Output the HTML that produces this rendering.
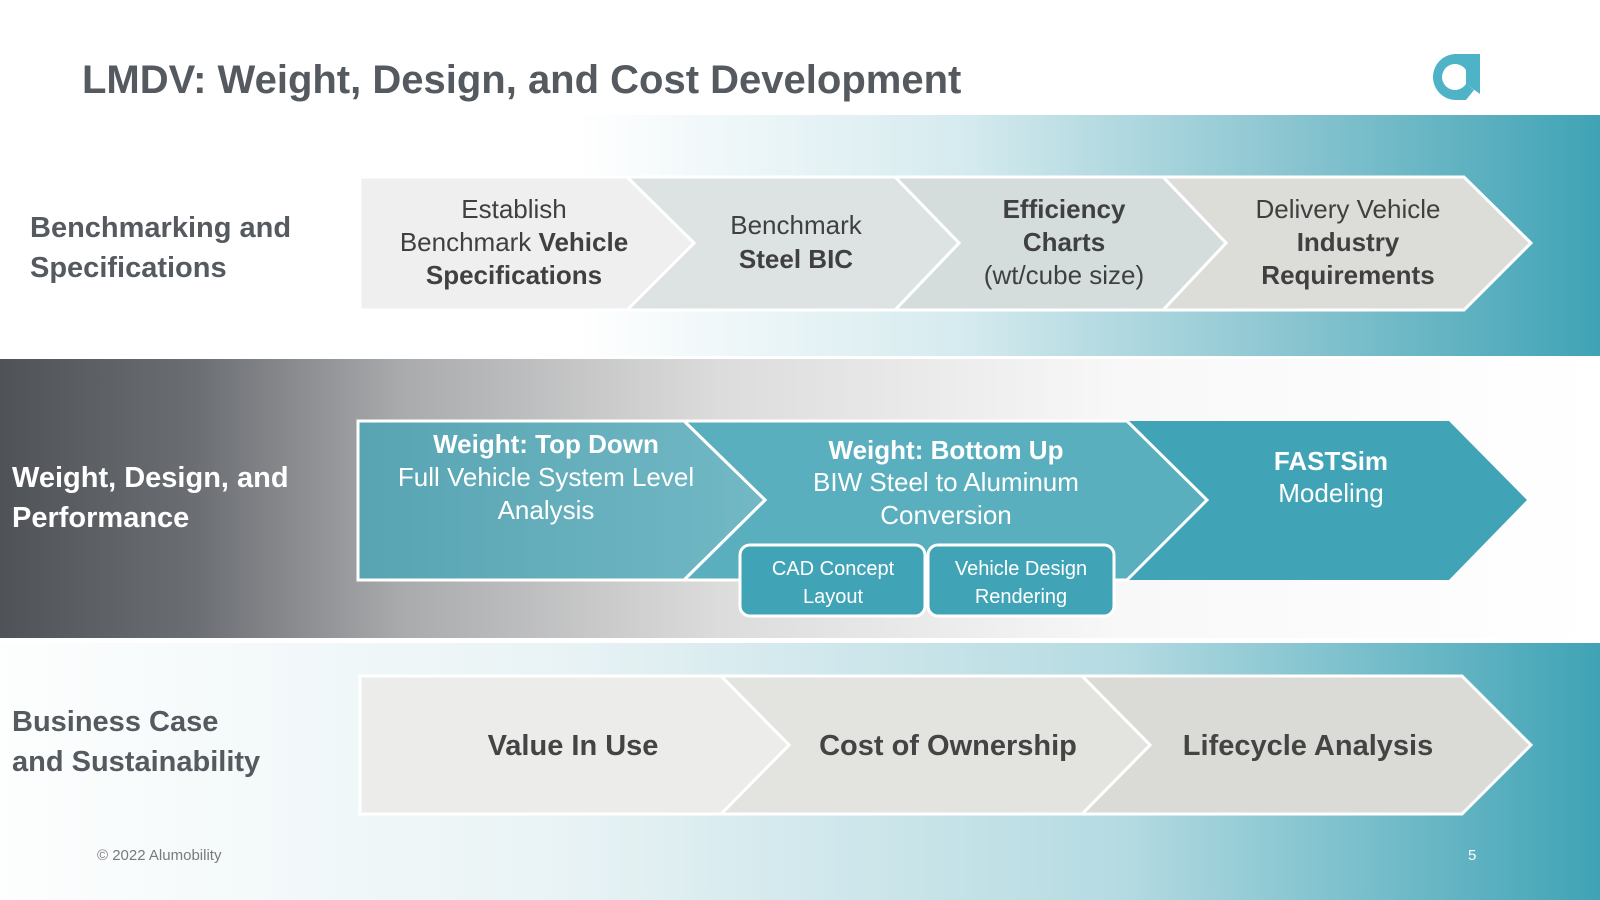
<!DOCTYPE html>
<html><head><meta charset="utf-8"><style>
html,body{margin:0;padding:0;background:#fff}
svg{display:block}
text{font-family:"Liberation Sans",sans-serif}
</style></head><body>
<svg width="1600" height="900" viewBox="0 0 1600 900" xmlns="http://www.w3.org/2000/svg">
<defs>
<linearGradient id="b1" x1="0" x2="1" y1="0" y2="0">
<stop offset="0" stop-color="#fff"/><stop offset="0.36" stop-color="#fff"/><stop offset="0.6" stop-color="#d6ebef"/><stop offset="0.8" stop-color="#8cc6d1"/><stop offset="1" stop-color="#3fa3b5"/></linearGradient>
<linearGradient id="b2" x1="0" x2="1" y1="0" y2="0">
<stop offset="0" stop-color="#4f5358"/><stop offset="0.12" stop-color="#6a6d72"/><stop offset="0.25" stop-color="#a9aaac"/><stop offset="0.45" stop-color="#dcdcdc"/><stop offset="0.7" stop-color="#f8f8f8"/><stop offset="1" stop-color="#fff"/></linearGradient>
<linearGradient id="b3" x1="0" x2="1" y1="0" y2="0">
<stop offset="0" stop-color="#fdfefe"/><stop offset="0.35" stop-color="#e9f3f5"/><stop offset="0.7" stop-color="#b5dbe2"/><stop offset="1" stop-color="#3fa3b5"/></linearGradient>
<linearGradient id="c21" x1="0" x2="1"><stop offset="0" stop-color="#58a4b3"/><stop offset="1" stop-color="#72b8c5"/></linearGradient>
</defs>
<rect width="1600" height="900" fill="#fff"/>
<text x="82" y="93" font-size="40" font-weight="bold" fill="#555a60">LMDV: Weight, Design, and Cost Development</text>
<g transform="translate(1432,54)">
<path d="M24 0 A23 23 0 1 0 24 46 L34 46 L42 36 L34 30 A13 13 0 1 1 34 16 L34 30 L48 40 L48 0 Z" fill="#4fb3c8"/>
</g>
<rect x="0" y="115" width="1600" height="241" fill="url(#b1)"/>
<rect x="0" y="359" width="1600" height="279" fill="url(#b2)"/>
<rect x="0" y="643" width="1600" height="257" fill="url(#b3)"/>
<g stroke="#fff" stroke-width="3" stroke-linejoin="miter">
<polygon points="1163,177 1464,177 1531,243 1464,310 1163,310 1226,243" fill="#dcdcd8"/>
<polygon points="895,177 1163,177 1226,243 1163,310 895,310 959,243" fill="#d5dcdc"/>
<polygon points="627,177 895,177 959,243 895,310 627,310 694,243" fill="#dde3e3"/>
<polygon points="360,177 627,177 694,243 627,310 360,310" fill="#efefef"/>
</g>
<g font-size="26" fill="#404040" text-anchor="middle">
<text x="514" y="218">Establish</text>
<text x="514" y="251">Benchmark <tspan font-weight="bold">Vehicle</tspan></text>
<text x="514" y="284" font-weight="bold">Specifications</text>
<text x="796" y="234">Benchmark</text>
<text x="796" y="268" font-weight="bold">Steel BIC</text>
<text x="1064" y="218" font-weight="bold">Efficiency</text>
<text x="1064" y="251" font-weight="bold">Charts</text>
<text x="1064" y="284">(wt/cube size)</text>
<text x="1348" y="218">Delivery Vehicle</text>
<text x="1348" y="251" font-weight="bold">Industry</text>
<text x="1348" y="284" font-weight="bold">Requirements</text>
</g>
<g font-size="29" font-weight="bold" fill="#555a60">
<text x="30" y="237">Benchmarking and</text>
<text x="30" y="277">Specifications</text>
</g>
<g stroke="#fff" stroke-width="3">
<polygon points="1127,421 1449,421 1527,500 1449,580 1127,580 1207,500" fill="#40a4b6" stroke="none"/>
<polygon points="684,421 1127,421 1207,500 1127,580 684,580 765,500" fill="#5aafbf"/>
<polygon points="358,421 684,421 765,500 684,580 358,580" fill="url(#c21)"/>
<rect x="740" y="545" width="185" height="71" rx="10" fill="#40a4b6"/>
<rect x="928" y="545" width="186" height="71" rx="10" fill="#40a4b6"/>
</g>
<g fill="#fff" text-anchor="middle" font-size="26">
<text x="546" y="453" font-weight="bold">Weight: Top Down</text>
<text x="546" y="486">Full Vehicle System Level</text>
<text x="546" y="519">Analysis</text>
<text x="946" y="459" font-weight="bold">Weight: Bottom Up</text>
<text x="946" y="491">BIW Steel to Aluminum</text>
<text x="946" y="524">Conversion</text>
<text x="1331" y="470" font-weight="bold">FASTSim</text>
<text x="1331" y="502">Modeling</text>
<g font-size="20"><text x="833" y="575">CAD Concept</text><text x="833" y="603">Layout</text>
<text x="1021" y="575">Vehicle Design</text><text x="1021" y="603">Rendering</text></g>
</g>
<g font-size="29" font-weight="bold" fill="#fff">
<text x="12" y="487">Weight, Design, and</text>
<text x="12" y="527">Performance</text>
</g>
<g stroke="#fff" stroke-width="3">
<polygon points="1082,676 1462,676 1531,745 1462,814 1082,814 1150,745" fill="#dadad6"/>
<polygon points="721,676 1082,676 1150,745 1082,814 721,814 789,745" fill="#e3e3e0"/>
<polygon points="360,676 721,676 789,745 721,814 360,814" fill="#ececea"/>
</g>
<g font-size="29" font-weight="bold" fill="#444" text-anchor="middle">
<text x="573" y="755">Value In Use</text>
<text x="948" y="755">Cost of Ownership</text>
<text x="1308" y="755">Lifecycle Analysis</text>
</g>
<g font-size="29" font-weight="bold" fill="#555a60">
<text x="12" y="731">Business Case</text>
<text x="12" y="771">and Sustainability</text>
</g>
<text x="97" y="860" font-size="15" fill="#7a7a7a">© 2022 Alumobility</text>
<text x="1468" y="860" font-size="15" fill="#fff">5</text>
</svg>
</body></html>
